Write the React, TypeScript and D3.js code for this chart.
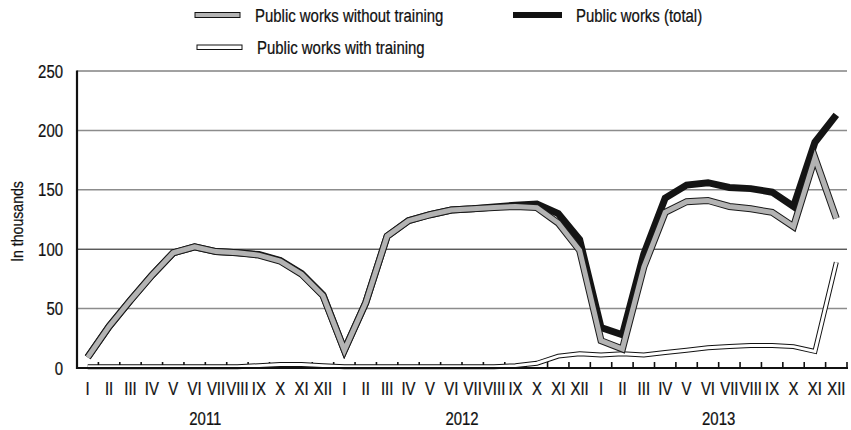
import React from "react";
import * as d3 from "d3";

const years = ["2011", "2012", "2013"];
const months = ["I", "II", "III", "IV", "V", "VI", "VII", "VIII", "IX", "X", "XI", "XII"];
const yTicks = [0, 50, 100, 150, 200, 250];

// thousands of people, monthly
const withoutTraining = [
  9, 35, 57, 78, 97, 102, 98, 97, 95, 90, 79, 61,
  15, 55, 111, 124, 129, 133, 134, 135, 136, 135, 122, 99,
  23, 16, 85, 131, 140, 141, 136, 134, 131, 119, 177, 126,
];
const withTraining = [
  1, 1, 1, 1, 1, 1, 1, 1, 2, 3, 3, 2,
  1, 1, 1, 1, 1, 1, 1, 1, 2, 4, 10, 12,
  11, 12, 11, 13, 15, 17, 18, 19, 19, 18, 14, 89,
];
const total = [
  9, 35, 57, 78, 97, 102, 98, 97, 95.5, 90.5, 79.5, 61.5,
  15, 55, 111, 124, 129, 133, 134, 135.5, 137, 138, 130, 108,
  34, 28, 96, 143, 154, 156, 152, 151, 148, 136, 190, 213,
];

const FONT = "'Liberation Sans', Arial, sans-serif";
const NARROW = 0.83;

const T: React.FC<{
  x: number;
  y: number;
  size: number;
  anchor?: "start" | "middle" | "end";
  rotate?: number;
  children: React.ReactNode;
}> = ({ x, y, size, anchor = "start", rotate = 0, children }) => (
  <text
    transform={`translate(${x},${y}) rotate(${rotate}) scale(${NARROW},1)`}
    textAnchor={anchor}
    fontSize={size}
    fill="#111"
    stroke="#111"
    strokeWidth={0.25}
  >
    {children}
  </text>
);

export default function App() {
  const width = 851;
  const height = 430;
  const left = 77;
  const right = 847;
  const top = 71;
  const bottom = 368;

  const keys = years.flatMap((y) => months.map((m) => `${y}-${m}`));

  const x = d3.scaleBand<string>().domain(keys).range([left, right]).padding(0);
  const y = d3.scaleLinear().domain([0, 250]).range([bottom, top]);

  const cx = (i: number) => (x(keys[i]) as number) + x.bandwidth() / 2;
  const line = d3
    .line<number>()
    .x((_, i) => cx(i))
    .y((d) => y(d));

  const gridColor = (v: number) => (v === 100 ? "#111" : v === 250 ? "#444" : "#8c8c8c");

  return (
    <svg
      width={width}
      height={height}
      style={{ position: "absolute", left: 0, top: 0, fontFamily: FONT }}
    >
      <rect width={width} height={height} fill="#fff" />

      {/* legend */}
      <g>
        <rect x={195} y={12.5} width={45} height={5} fill="#b3b3b3" stroke="#111" strokeWidth={1} />
        <T x={255} y={21.5} size={18}>Public works without training</T>
        <rect x={513} y={12} width={49} height={6} fill="#111" />
        <T x={576} y={21.5} size={18}>Public works (total)</T>
        <rect x={197} y={45} width={45} height={4.5} fill="#fff" stroke="#111" strokeWidth={1} />
        <T x={257} y={53.5} size={18}>Public works with training</T>
      </g>

      {/* grid */}
      {yTicks.filter((v) => v > 0).map((v) => (
        <line
          key={v}
          x1={left}
          x2={right}
          y1={y(v)}
          y2={y(v)}
          stroke={gridColor(v)}
          strokeWidth={v === 100 || v === 250 ? 1 : 1.5}
        />
      ))}

      {/* y axis */}
      <line x1={left} x2={left} y1={top - 0.5} y2={bottom + 1} stroke="#111" strokeWidth={2.2} />
      {yTicks.map((v) => (
        <T key={v} x={63} y={y(v) + 6.5} size={18} anchor="end">
          {v}
        </T>
      ))}
      <T x={23} y={(top + bottom) / 2 + 2} size={17} anchor="middle" rotate={-90}>
        In thousands
      </T>

      {/* x ticks */}
      {keys.map((k) => (
        <line
          key={k}
          x1={(x(k) as number) + x.bandwidth()}
          x2={(x(k) as number) + x.bandwidth()}
          y1={bottom}
          y2={bottom - 6}
          stroke="#111"
          strokeWidth={1.6}
        />
      ))}

      {/* with training */}
      <path d={line(withTraining) || ""} fill="none" stroke="#111" strokeWidth={5} strokeLinejoin="miter" />
      <path d={line(withTraining) || ""} fill="none" stroke="#fff" strokeWidth={3} strokeLinejoin="miter" />

      {/* total */}
      <path d={line(total) || ""} fill="none" stroke="#141414" strokeWidth={7} strokeLinejoin="miter" />

      {/* without training */}
      <path d={line(withoutTraining) || ""} fill="none" stroke="#1a1a1a" strokeWidth={7} strokeLinejoin="miter" />
      <path d={line(withoutTraining) || ""} fill="none" stroke="#b3b3b3" strokeWidth={5} strokeLinejoin="miter" />

      {/* x axis */}
      <line x1={left - 1} x2={right + 1} y1={bottom} y2={bottom} stroke="#111" strokeWidth={2.2} />

      {keys.map((k, i) => (
        <T key={k} x={cx(i)} y={395} size={18} anchor="middle">
          {months[i % 12]}
        </T>
      ))}
      {years.map((yr) => (
        <T key={yr} x={(x(`${yr}-VI`) as number) + x.bandwidth()} y={425} size={18} anchor="middle">
          {yr}
        </T>
      ))}
    </svg>
  );
}
